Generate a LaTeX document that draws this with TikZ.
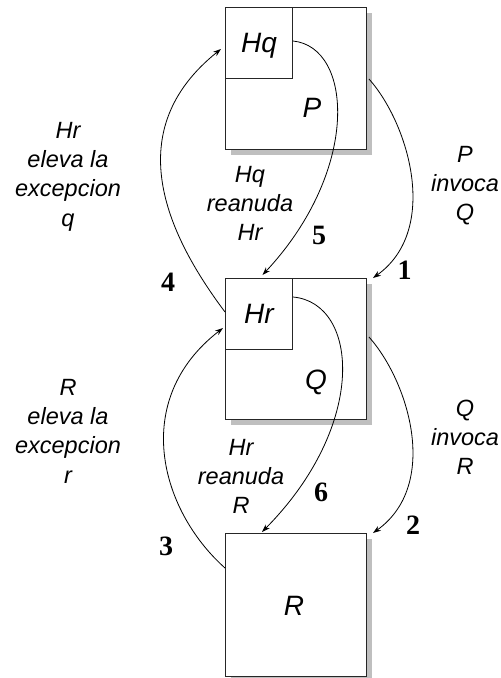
\documentclass[tikz,border=0pt]{standalone}
\usepackage{fontspec}
\setmainfont{Liberation Sans}
\newfontfamily\numfont{Liberation Serif}
\usetikzlibrary{calc,arrows.meta,shadows}
\begin{document}
\begin{tikzpicture}[x=1pt,y=-1pt,
  proc/.style={draw=black!85, line width=1pt, fill=white, inner sep=0pt, anchor=north west},
  shad/.style={drop shadow={shadow xshift=5pt, shadow yshift=-5pt, fill=black!25, opacity=1}},
  boxtxt/.style={inner sep=0pt, text depth=0pt, font=\fontsize{28}{32}\selectfont\itshape},
  lbl/.style={align=center, inner sep=0pt, anchor=north, font=\fontsize{23.5}{29.3}\selectfont\itshape},
  num/.style={inner sep=0pt, text depth=0pt, font=\fontsize{28}{30}\numfont\bfseries},
  flow/.style={line width=0.8pt, -{Stealth[length=8pt,width=5.5pt]}}
]
\useasboundingbox (0,0) rectangle (501,678);

% boxes
\node[proc, shad, minimum width=141pt, minimum height=142pt] (P) at (225,7) {};
\node[proc, minimum width=67pt, minimum height=71pt, boxtxt] (Hq) at (225,7) {};
\node[boxtxt] (Hqt) at (Hq.center) {Hq};
\node[boxtxt] (Pt) at (312,108) {P};

\node[proc, shad, minimum width=141pt, minimum height=141pt] (Q) at (225,278) {};
\node[proc, minimum width=67pt, minimum height=71pt] (Hr) at (225,278) {};
\node[boxtxt] (Hrt) at (Hr.center) {Hr};
\node[boxtxt] (Qt) at (316,380) {Q};

\node[proc, shad, minimum width=141pt, minimum height=143pt] (R) at (225,533) {};
\node[boxtxt] (Rt) at (294,606) {R};

% labels
\node[lbl] (l4) at (68,117.5) {\strut Hr\\\strut eleva la\\\strut excepcion\\\strut q};
\node[lbl] (l3) at (68,374.5) {\strut R\\\strut eleva la\\\strut excepcion\\\strut r};
\node[lbl] (l5) at (250,161.5) {\strut Hq\\\strut reanuda\\\strut Hr};
\node[lbl] (l6) at (241,434.5) {\strut Hr\\\strut reanuda\\\strut R};
\node[lbl] (l1) at (465,141.5) {\strut P\\\strut invoca\\\strut Q};
\node[lbl] (l2) at (465,395.5) {\strut Q\\\strut invoca\\\strut R};

% numbers
\node[num] (n1) at (404.5,270) {1};
\node[num] (n2) at (413,525) {2};
\node[num] (n3) at (166,546) {3};
\node[num] (n4) at (168,282) {4};
\node[num] (n5) at (319,235) {5};
\node[num] (n6) at (321,492) {6};

% connectors
\draw[flow] ($(P.north east)+(2,72)$) .. controls +(40,45) and +(67,-48) .. ($(Q.north east)+(6,0)$);
\draw[flow] ($(Q.north east)+(2,59)$) .. controls +(40,45) and +(67,-48) .. ($(R.north east)+(6,0)$);
\draw[flow] ($(R.north west)+(0,35)$) .. controls +(-65,-58) and +(-93,72) .. ($(Hr.north west)+(-2,50)$);
\draw[flow] ($(Hr.north west)+(0,34)$) .. controls +(-60,-80) and +(-101,81) .. ($(Hq.north west)+(-4,42)$);
\draw[flow] ($(Hq.north east)+(0,34)$) .. controls +(60,6) and +(98,-105) .. ($(Hr.north)+(3.5,-3)$);
\draw[flow] ($(Hr.north east)+(0,19)$) .. controls +(66,6) and +(106,-107) .. ($(R.north west)+(37,-1)$);
\end{tikzpicture}
\end{document}
